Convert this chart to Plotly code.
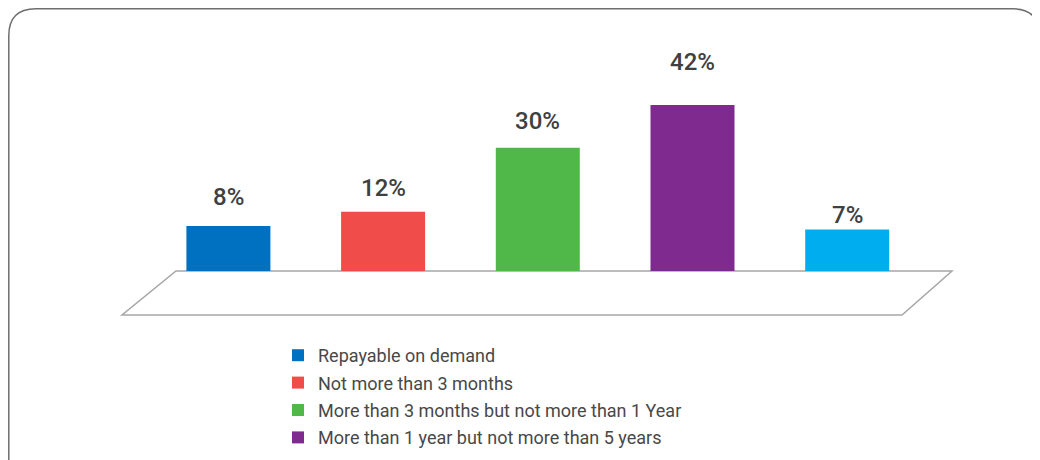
import plotly.graph_objects as go

# ---- data ----
categories = [
    "Repayable on demand",
    "Not more than 3 months",
    "More than 3 months but not more than 1 Year",
    "More than 1 year but not more than 5 years",
    "More than 5 years",
]
values = [8, 12, 30, 42, 7]
labels = ["8%", "12%", "30%", "42%", "7%"]

# ---- style ----
bar_colors = ["#0070C0", "#F04C4A", "#50B848", "#7F2A8E", "#00AEEF"]
show_in_legend = [True, True, True, True, False]
label_lift = [13, 8, 11, 27, -1]   # pixel lift of each value label above its bar
floor_offset = -4.63               # bars rise from the front edge of the 3D floor
W, H = 1040, 460
PAGE = 8  # default body margin of the html page


def fx(x):
    return (x - PAGE) / W


def fy(y):
    return 1 - (y - PAGE) / H


def px(x, y):
    return f"{fx(x):.5f},{fy(y):.5f}"


fig = go.Figure()
for i, (cat, val, col) in enumerate(zip(categories, values, bar_colors)):
    fig.add_trace(go.Bar(
        x=[cat], y=[val - floor_offset], base=floor_offset,
        name=cat, marker=dict(color=col, line=dict(width=0)),
        showlegend=show_in_legend[i], legendgroup=f"g{i}",
        hoverinfo="skip",
    ))

for cat, val, lab, lift in zip(categories, values, labels, label_lift):
    fig.add_annotation(
        x=cat, y=val, xref="x", yref="y", text=lab, showarrow=False,
        yanchor="bottom", yshift=lift,
        font=dict(family="Roboto, Arial, sans-serif", size=24, color="#404040", weight=500),
    )

# floor parallelogram
floor_path = f"M {px(176,271)} L {px(952,271)} L {px(902,315)} L {px(122,315)} Z"
fig.add_shape(type="path", xref="paper", yref="paper", path=floor_path,
              fillcolor="white", line=dict(color="#A6A6A6", width=1.5), layer="below")

# rounded outer border (page coordinates)
l, t, r, b, rad = 8.8, 8.8, 1039.5, 490, 27
border = (f"M {px(l + rad, t)} L {px(r - rad, t)} Q {px(r, t)} {px(r, t + rad)} "
          f"L {px(r, b - rad)} Q {px(r, b)} {px(r - rad, b)} "
          f"L {px(l + rad, b)} Q {px(l, b)} {px(l, b - rad)} "
          f"L {px(l, t + rad)} Q {px(l, t)} {px(l + rad, t)} Z")
fig.add_shape(type="path", xref="paper", yref="paper", path=border,
              line=dict(color="#6E6E6E", width=1.5), layer="above")

fig.update_layout(
    width=W, height=H,
    margin=dict(l=0, r=0, t=0, b=0, pad=0),
    paper_bgcolor="white", plot_bgcolor="rgba(0,0,0,0)",
    barmode="overlay", bargap=0.457,
    showlegend=True,
    legend=dict(
        x=fx(278), y=fy(337), xanchor="left", yanchor="top",
        font=dict(family="Roboto, Arial, sans-serif", size=18, color="#484848"),
        tracegroupgap=1, bgcolor="rgba(0,0,0,0)", itemclick=False,
    ),
    xaxis=dict(domain=[fx(151.05), fx(924.55)], range=[-0.5, 4.5], showticklabels=False,
               showgrid=False, zeroline=False, showline=False, ticks=""),
    yaxis=dict(domain=[fy(271), fy(40)], range=[floor_offset, 60.25],
               showticklabels=False, showgrid=False, zeroline=False, showline=False, ticks=""),
)

fig.write_html("out.html")
